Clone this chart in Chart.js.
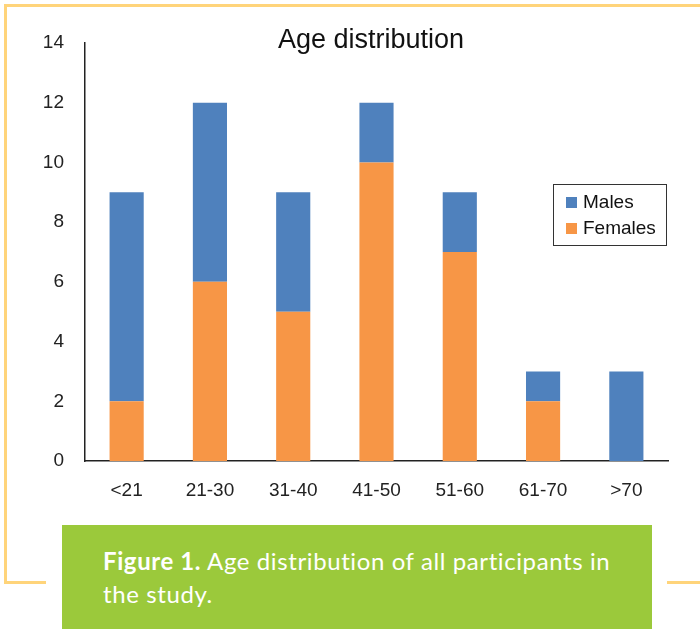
<!DOCTYPE html>
<html>
<head>
<meta charset="utf-8">
<script src="https://cdn.jsdelivr.net/npm/chart.js@4"></script>
<style>
  body { margin: 0; background: #fff; }
  #wrap { position: relative; width: 700px; height: 629px; overflow: hidden; }
  .frame { position: absolute; background: #FFD47A; }
  #chartBox { position: absolute; left: 0; top: 0; width: 700px; height: 520px; }
  #title { position: absolute; left: 221px; top: 24px; width: 300px; text-align: center;
           font: 27px "Liberation Sans", Arial, sans-serif; color: #111; }
  #legend { position: absolute; left: 553px; top: 184px; width: 112px; height: 60px;
            border: 1px solid #333; font: 19px "Liberation Sans", Arial, sans-serif; color: #111; }
  #legend div { position: absolute; left: 12px; }
  #legend span { display: inline-block; width: 11px; height: 11px; margin-right: 6px; }
  #caption { position: absolute; left: 62px; top: 525px; width: 590px; height: 104px; background: #9BC93B;
             color: #fff; font: 24px Lato, "Open Sans", sans-serif; letter-spacing: 0.6px; }
  #caption p { margin: 0; position: absolute; left: 41px; top: 19px; width: 530px; line-height: 33px; }
</style>
</head>
<body>
<div id="wrap">
  <div class="frame" style="left:4px; top:4px; width:696px; height:3px;"></div>
  <div class="frame" style="left:4px; top:4px; width:3px; height:580px;"></div>
  <div class="frame" style="left:4px; top:581px; width:42px; height:3px;"></div>
  <div class="frame" style="left:667px; top:581px; width:33px; height:3px;"></div>
  <div id="chartBox"><canvas id="chart"></canvas></div>
  <div id="title">Age distribution</div>
  <div id="legend">
    <div style="top:6px;"><span style="background:#4F81BD"></span>Males</div>
    <div style="top:32px;"><span style="background:#F79646"></span>Females</div>
  </div>
  <div id="caption"><p><b>Figure 1.</b> Age distribution of all participants in<br>the study.</p></div>
</div>
<script>
const ageGroups = ['<21', '21-30', '31-40', '41-50', '51-60', '61-70', '>70'];
const females = [2, 6, 5, 10, 7, 2, 0];
const males = [7, 6, 4, 2, 2, 1, 3];

const tickFont = { family: '"Liberation Sans", Arial, sans-serif', size: 19 };

new Chart(document.getElementById('chart'), {
  type: 'bar',
  data: {
    labels: ageGroups,
    datasets: [
      { label: 'Females', data: females, backgroundColor: '#F79646' },
      { label: 'Males', data: males, backgroundColor: '#4F81BD' }
    ]
  },
  options: {
    responsive: true,
    maintainAspectRatio: false,
    animation: false,
    layout: { padding: { left: 0, right: 32, top: 43, bottom: 0 } },
    plugins: { legend: { display: false }, tooltip: { enabled: false } },
    datasets: { bar: { barPercentage: 0.41, categoryPercentage: 1 } },
    scales: {
      x: {
        stacked: true,
        grid: { display: false, drawTicks: false },
        border: { color: '#222', width: 1.5 },
        ticks: { color: '#222', font: tickFont, padding: 18, maxRotation: 0 },
        afterFit: s => { s.height = 59; }
      },
      y: {
        stacked: true,
        min: 0, max: 14,
        grid: { display: false, drawTicks: false },
        border: { color: '#222', width: 1.5 },
        ticks: { stepSize: 2, color: '#222', font: tickFont, padding: 21 },
        afterFit: s => { s.width = 85; }
      }
    }
  }
});
</script>
</body>
</html>
